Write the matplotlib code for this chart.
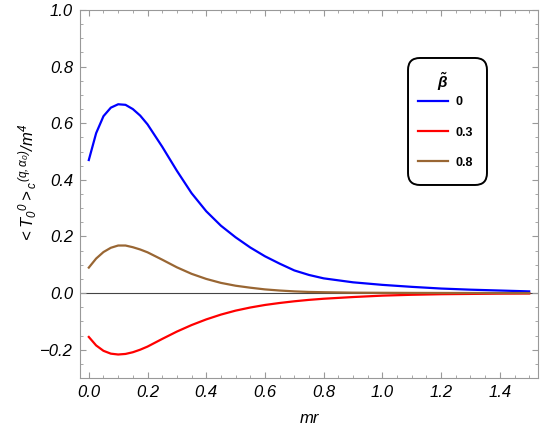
import matplotlib
matplotlib.use("Agg")
import matplotlib.pyplot as plt
from matplotlib.ticker import MultipleLocator, FuncFormatter
from matplotlib.patches import FancyBboxPatch

plt.rcParams['font.family'] = ['Liberation Sans', 'DejaVu Sans']
plt.rcParams['font.style'] = 'italic'
plt.rcParams['mathtext.fontset'] = 'custom'
plt.rcParams['mathtext.it'] = 'Liberation Sans:italic'
plt.rcParams['mathtext.rm'] = 'Liberation Sans'
plt.rcParams['mathtext.bf'] = 'Liberation Sans:bold:italic'

# values
mr = [0, 0.025, 0.05, 0.075, 0.1, 0.125, 0.15, 0.175, 0.2, 0.25, 0.3, 0.35,
      0.4, 0.45, 0.5, 0.55, 0.6, 0.65, 0.7, 0.75, 0.8, 0.9, 1.0, 1.1, 1.2,
      1.3, 1.4, 1.5]
beta_0 = [0.47, 0.565, 0.625, 0.655, 0.667, 0.665, 0.65, 0.627, 0.596, 0.517,
          0.432, 0.353, 0.289, 0.238, 0.197, 0.161, 0.13, 0.104, 0.08,
          0.064, 0.052, 0.038, 0.029, 0.022, 0.016, 0.012, 0.009, 0.006]
beta_03 = [-0.155, -0.185, -0.204, -0.214, -0.217, -0.215, -0.209, -0.2,
           -0.189, -0.162, -0.136, -0.113, -0.093, -0.076, -0.062, -0.051,
           -0.042, -0.035, -0.029, -0.024, -0.02, -0.014, -0.009, -0.006,
           -0.004, -0.003, -0.002, -0.0015]
beta_08 = [0.09, 0.122, 0.145, 0.16, 0.168, 0.168, 0.162, 0.154, 0.144, 0.118,
           0.091, 0.068, 0.05, 0.036, 0.026, 0.019, 0.013, 0.009, 0.006,
           0.004, 0.003, 0.0015, 0.001, 0.0006, 0.0004, 0.0003, 0.0002, 0.0001]
labels = ['0', '0.3', '0.8']
colors = ['#0000ff', '#ff0000', '#996633']

fig = plt.figure(figsize=(5.42, 4.38), dpi=100)
ax = fig.add_axes([80/542, 1 - 378/438, 458/542, 368/438])

for ys, lab, c in zip([beta_0, beta_03, beta_08], labels, colors):
    ax.plot(mr, ys, color=c, lw=1.6, label=lab, solid_joinstyle='round')
ax.axhline(0, color='#444444', lw=0.8, zorder=0)

ax.set_xlim(-0.03, 1.53)
ax.set_ylim(-0.3, 1.0)
fmt = FuncFormatter(lambda v, p: ('%.1f' % v).replace('-', '\u2212'))
ax.xaxis.set_major_locator(MultipleLocator(0.2))
ax.xaxis.set_minor_locator(MultipleLocator(0.05))
ax.yaxis.set_major_locator(MultipleLocator(0.2))
ax.yaxis.set_minor_locator(MultipleLocator(0.05))
ax.xaxis.set_major_formatter(fmt)
ax.yaxis.set_major_formatter(fmt)
ax.tick_params(which='both', direction='in', top=True, right=True,
               labeltop=False, labelright=False, color='#999999')
ax.tick_params(which='major', length=4, width=0.8, labelsize=12, pad=5)
ax.tick_params(which='minor', length=2, width=0.6)
for s in ax.spines.values():
    s.set_color('#999999')
    s.set_linewidth(0.8)

ax.set_xlabel('mr', fontsize=12, labelpad=8)
ax.set_ylabel(r'${<}T_0{}^0{>}_c{}^{(q,\alpha_0)}/m^4$', fontsize=12)
ax.yaxis.set_label_coords(-0.09, 0.53)

# legend box drawn like the reference (rounded frame, title, entries)
ax.add_patch(FancyBboxPatch((0.7162, 0.5245), 0.1724, 0.3451,
                            boxstyle='round,pad=0,rounding_size=0.026',
                            mutation_aspect=458/368, transform=ax.transAxes,
                            facecolor='white', edgecolor='black', lw=1.4,
                            zorder=4))
ax.text(0.793, 0.8043, r'$\mathbf{\tilde{\beta}}$', transform=ax.transAxes,
        ha='center', va='center', fontsize=11, zorder=5)
leg = ax.legend(loc='center left', bbox_to_anchor=(0.738, 0.667),
                borderaxespad=0, borderpad=0, frameon=False,
                prop={'weight': 'bold', 'size': 9, 'style': 'normal'},
                handlelength=2.4, labelspacing=1.45, handletextpad=0.56)
leg.set_zorder(6)

fig.savefig('out.png', dpi=100)
